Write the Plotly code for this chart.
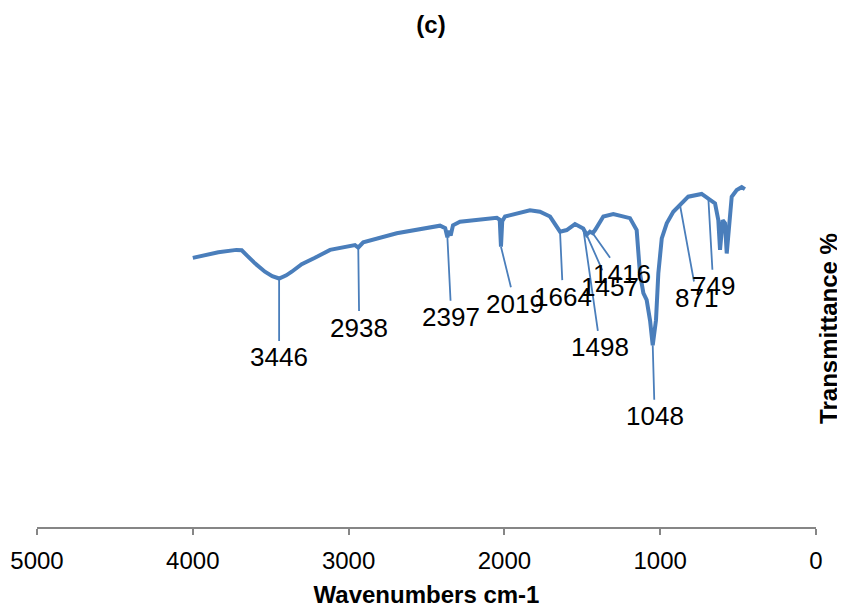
import plotly.graph_objects as go

# ---- data ----
wavenumber = [4000, 3836, 3720, 3686, 3650, 3601, 3537, 3490, 3446, 3400, 3365, 3301, 3216, 3119,
              2959, 2938, 2906, 2691, 2413, 2380, 2366, 2355, 2345, 2330,
              2285, 2049, 2030, 2022, 2014, 1996, 1836, 1772, 1707, 1643,
              1600, 1547, 1494, 1472, 1451, 1433, 1418, 1365, 1301, 1215,
              1194, 1151, 1130, 1108, 1087, 1065, 1048, 1027, 1012, 990,
              958, 916, 873, 820, 734, 691, 648, 627, 616, 599,
              584, 573, 556, 541, 509, 477, 456]
transmittance = [67.8, 69.2, 69.8, 69.7, 68.3, 66.4, 64.3, 63.2, 62.6, 63.4, 64.3, 66.2, 67.8, 69.8,
                 71.0, 70.4, 71.7, 74.0, 75.9, 75.3, 73.0, 74.6, 73.4, 76.0,
                 76.9, 77.9, 77.4, 70.6, 77.0, 78.2, 79.8, 79.4, 78.2, 74.4,
                 74.8, 76.3, 75.2, 73.6, 74.4, 74.0, 74.8, 78.2, 78.8, 78.2,
                 77.8, 74.8, 63.9, 58.9, 57.2, 52.0, 45.8, 52.1, 63.9, 72.7,
                 76.5, 79.4, 81.1, 83.2, 83.9, 82.8, 81.5, 77.3, 69.8, 77.3,
                 76.5, 68.9, 77.3, 83.2, 84.9, 85.6, 85.1]

peak_labels = ['3446', '2938', '2397', '2019', '1664', '1498', '1457', '1416', '1048', '871', '749']
peak_points = [3446, 2938, 2366, 2022, 1643, 1494, 1472, 1433, 1048, 873, 691]

x_ticks = [5000, 4000, 3000, 2000, 1000, 0]

# ---- style / placement (pixels) ----
label_dx = [0, 1, 4, 14, 3, 17, 23, 29, 2, 17, 5]
label_dy = [79, 80, 80, 57, 65, 119, 52, 41, 71, 93, 88]

LINE = '#4a7ebb'
FONT = 'Liberation Sans, Arial, sans-serif'
W, H = 837, 600   # page body keeps an 8 px margin

lookup = dict(zip(wavenumber, transmittance))

fig = go.Figure()
fig.add_trace(go.Scatter(x=wavenumber, y=transmittance, mode='lines',
                         line=dict(color=LINE, width=4), showlegend=False,
                         hoverinfo='skip'))

for lab, wn, dx, dy in zip(peak_labels, peak_points, label_dx, label_dy):
    fig.add_annotation(x=wn, y=lookup[wn], xref='x', yref='y', text=lab,
                       showarrow=True, arrowhead=0, arrowwidth=1.8,
                       arrowcolor=LINE, ax=dx, ay=dy,
                       font=dict(family=FONT, size=26, color='black'))

fig.update_layout(
    width=W, height=H,
    margin=dict(l=29, r=29, t=122, b=81),
    paper_bgcolor='white', plot_bgcolor='white',
    title=dict(text='<b>(c)</b>', x=(431 - 8) / W, xref='container',
               y=1 - (25 - 8) / H, yref='container', xanchor='center', yanchor='middle',
               font=dict(family=FONT, size=24, color='black')),
    font=dict(family=FONT, color='black'),
)
fig.update_xaxes(range=[5000, 0], tickvals=x_ticks, ticktext=[str(t) for t in x_ticks],
                 ticks='outside', ticklen=6, tickwidth=1.5, tickcolor='#868686',
                 showline=True, linecolor='#868686', linewidth=1.5,
                 showgrid=False, zeroline=False, ticklabelstandoff=5,
                 tickfont=dict(family=FONT, size=24, color='black'),
                 title=dict(text='<b>Wavenumbers cm-1</b>', standoff=24,
                            font=dict(family=FONT, size=24, color='black')),
                 automargin=False)
fig.update_yaxes(range=[0, 100], side='right', showline=False, ticks='',
                 showticklabels=False, showgrid=False, zeroline=False,
                 title=dict(text='<b>Transmittance %</b>', standoff=4,
                            font=dict(family=FONT, size=24, color='black')),
                 automargin=False)

fig.write_html('out.html')
